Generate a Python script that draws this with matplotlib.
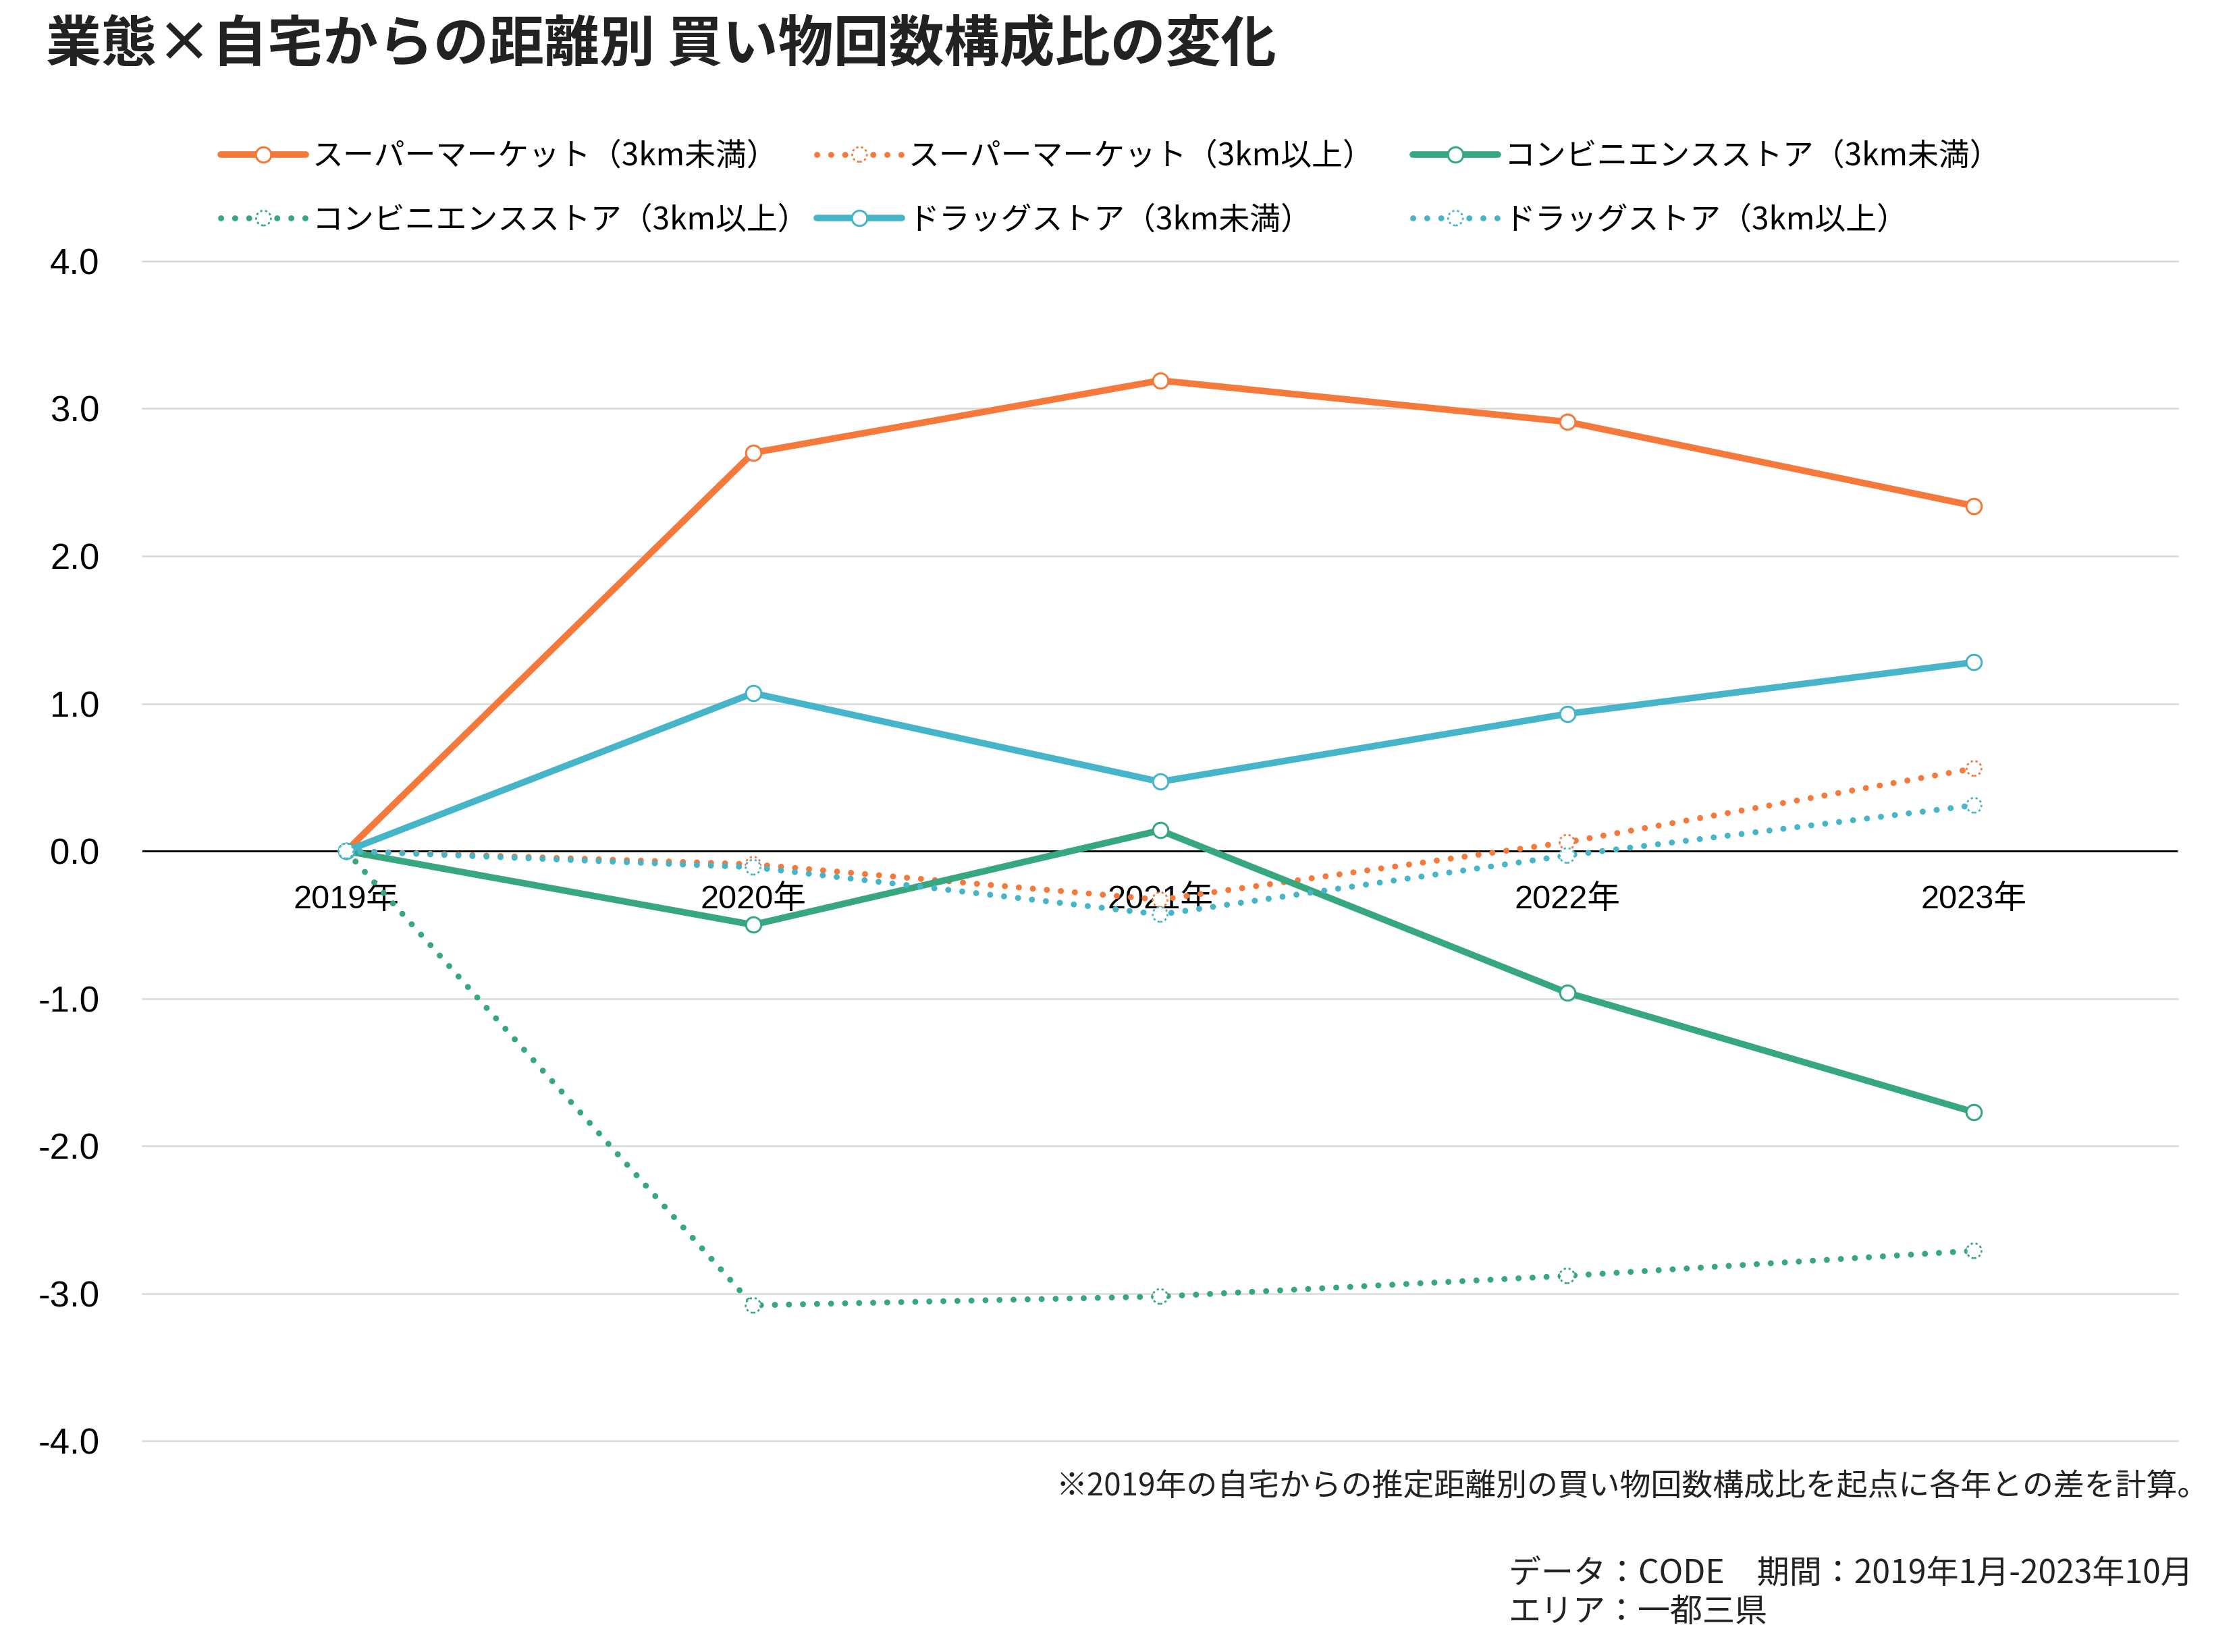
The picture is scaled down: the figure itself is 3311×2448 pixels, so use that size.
import matplotlib
matplotlib.use("Agg")
import matplotlib.pyplot as plt
from matplotlib.legend_handler import HandlerTuple
import numpy as np

plt.rcParams["font.family"] = ["Noto Sans CJK JP", "DejaVu Sans"]
plt.rcParams["axes.unicode_minus"] = False

# ---- data ----
years = ["2019年", "2020年", "2021年", "2022年", "2023年"]
super_near = [0, 2.70, 3.19, 2.91, 2.34]
super_far = [0, -0.09, -0.33, 0.06, 0.56]
conv_near = [0, -0.50, 0.14, -0.96, -1.77]
conv_far = [0, -3.08, -3.02, -2.88, -2.71]
drug_near = [0, 1.07, 0.47, 0.93, 1.28]
drug_far = [0, -0.11, -0.43, -0.03, 0.31]

labels = ["スーパーマーケット（3km未満）", "スーパーマーケット（3km以上）",
          "コンビニエンスストア（3km未満）", "コンビニエンスストア（3km以上）",
          "ドラッグストア（3km未満）", "ドラッグストア（3km以上）"]
series = [super_near, super_far, conv_near, conv_far, drug_near, drug_far]
ORANGE, GREEN, BLUE = "#F4793A", "#36A77E", "#46B5CA"
colors = [ORANGE, ORANGE, GREEN, GREEN, BLUE, BLUE]
dotted = [False, True, False, True, False, True]

fig = plt.figure(figsize=(16.56, 12.24), dpi=200)
ax = fig.add_axes([0.0638, 0.1277, 0.9102, 0.7143])
x = np.arange(len(years))

handles = []
for k, (y, c, d, lab) in enumerate(zip(series, colors, dotted, labels)):
    if d:
        ln, = ax.plot(x, y, color=c, lw=3.2, linestyle=(0, (0.01, 2.33)),
                      dash_capstyle="round", zorder=3 + k)
        sc = ax.scatter(x, y, s=62, facecolor="white", edgecolor=c,
                        linewidths=1.0, linestyle=(0, (1.2, 1.4)), zorder=3.5 + k)
    else:
        ln, = ax.plot(x, y, color=c, lw=3.5, solid_capstyle="round", zorder=3 + k)
        sc = ax.scatter(x, y, s=66, facecolor="white", edgecolor=c,
                        linewidths=1.1, zorder=3.5 + k)
    handles.append((ln, sc))

ax.set_xlim(-0.5, 4.5)
ax.set_ylim(-4, 4)
ax.set_yticks(np.arange(-4, 5, 1))
ax.set_yticklabels([f"{v:.1f}" for v in np.arange(-4, 5, 1)],
                   family=["Liberation Sans", "DejaVu Sans"], fontsize=19)
ax.tick_params(axis="y", length=0, pad=23)
ax.set_xticks([])
for s in ax.spines.values():
    s.set_visible(False)
ax.yaxis.grid(True, color="#D9D9D9", lw=0.9, zorder=0)
for gl in ax.get_ygridlines():
    gl.set_clip_on(False)
ax.set_axisbelow(True)
ax.axhline(0, color="black", lw=1.0, zorder=2)

# year labels just under the zero line
for i, yr in enumerate(years):
    ax.annotate(yr, (i, 0), xytext=(0, -26), textcoords="offset points",
                ha="center", va="center", fontsize=17.5, zorder=1,
                family=["Liberation Sans", "Noto Sans CJK JP"])

# legend: three columns of two entries each
cols = [[0, 3], [1, 4], [2, 5]]
xs = [155 / 1568, 573 / 1568, 991 / 1568]
for xc, idx in zip(xs, cols):
    fig.legend([handles[i] for i in idx], [labels[i] for i in idx],
               handler_map={tuple: HandlerTuple(ndivide=1)},
               loc="center left", bbox_to_anchor=(xc, 1 - 132 / 1159),
               frameon=False, fontsize=16.5, handlelength=2.75,
               handletextpad=0.2, labelspacing=1.0, borderpad=0,
               borderaxespad=0, scatterpoints=1, scatteryoffsets=[0.5])

fig.text(0.0204, 1 - 32 / 1159, "業態×自宅からの距離別 買い物回数構成比の変化",
         fontsize=29.5, fontweight="bold", color="#222222", ha="left", va="center")

fig.text(0.988, 1 - 1043 / 1159,
         "※2019年の自宅からの推定距離別の買い物回数構成比を起点に各年との差を計算。",
         fontsize=16.5, ha="right", va="center", color="#222222")
fig.text(0.6747, 1 - 1104 / 1159, "データ：CODE　期間：2019年1月-2023年10月",
         fontsize=17.3, ha="left", va="center", color="#222222")
fig.text(0.6747, 1 - 1131 / 1159, "エリア：一都三県",
         fontsize=17.3, ha="left", va="center", color="#222222")

fig.savefig("out.png", dpi=200)
